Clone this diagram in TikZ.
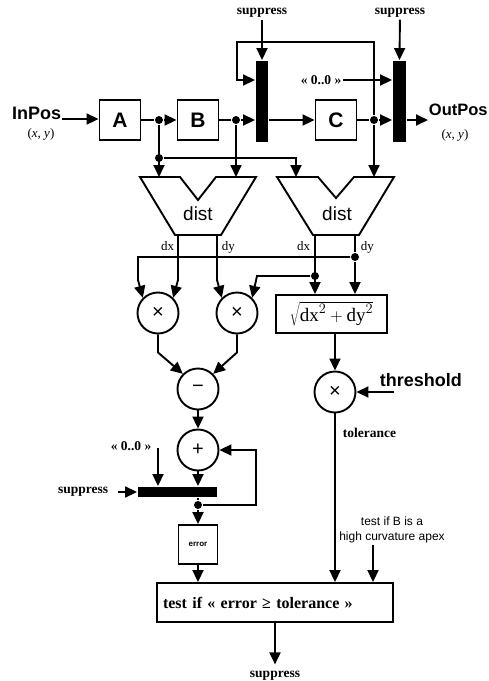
\documentclass[tikz,border=0pt]{standalone}
\usepackage{fontspec}
\setmainfont{Liberation Serif}
\setsansfont{Liberation Sans}
\usetikzlibrary{positioning,arrows.meta}

\begin{document}
\begin{tikzpicture}[
  x=1pt, y=-1pt,
  line width=1.9pt,
  >={Triangle[length=12pt,width=11pt]},
  blk/.style={draw, minimum width=41pt, minimum height=40pt, inner sep=0pt,
              font=\sffamily\bfseries\fontsize{21}{21}\selectfont},
  bar/.style={fill=black, inner sep=0pt},
  op/.style={draw, circle, minimum size=41pt, inner sep=0pt,
             font=\sffamily\fontsize{20}{20}\selectfont},
  lbl/.style={font=\bfseries\fontsize{13.5}{13.5}\selectfont, inner sep=1pt},
  big/.style={font=\sffamily\bfseries\fontsize{18}{18}\selectfont, inner sep=0pt},
  small/.style={font=\fontsize{13}{13}\selectfont, inner sep=0pt},
  dot/.style={circle, fill=black, inner sep=0pt, minimum size=8pt},
  dist/.style={font=\sffamily\fontsize{19}{19}\selectfont}
]
\useasboundingbox (0,0) rectangle (488,681);

% input / output
\node[big, anchor=base east] (in) at (62,119) {InPos};
\node[small] (inxy) at (41,134) {(\textit{x}, \textit{y})};
\node[big, font=\sffamily\bfseries\fontsize{16.5}{16.5}\selectfont,
      anchor=base west] (out) at (428,115) {OutPos};
\node[small] (outxy) at (455,135) {(\textit{x}, \textit{y})};

% delay chain
\node[blk] (A) at (120,120) {A};
\node[blk] (B) at (198,120) {B};
\node[blk] (C) at (336,120) {C};
\node[dot] (j1) at (159,120) {};
\node[dot] (j2) at (159,158) {};
\node[dot] (j3) at (236,120) {};
\node[dot] (j4) at (374,120) {};

% suppress switches
\node[bar, minimum width=12pt, minimum height=81pt] (s1) at (262,101.5) {};
\node[bar, minimum width=13pt, minimum height=81pt] (s2) at (399.5,101.5) {};
\node[lbl] (sup1) at (262,13) {suppress};
\node[lbl] (sup2) at (400,13) {suppress};
\node[lbl] (zero1) at (321,80) {« 0..0 »};
\coordinate (fbA) at (237,42);
\coordinate (fbB) at (237,80);

% dist blocks
\coordinate (dl) at (198,177);
\coordinate (dr) at (336,177);
\draw (dl) ++(-58,0) -- ++(40,0) -- ++(18,23) -- ++(18,-23)
  -- ++(40,0) -- ++(-35,58) -- ++(-46,0) -- cycle;
\draw (dr) ++(-59,0) -- ++(41,0) -- ++(18,21) -- ++(18,-21)
  -- ++(40,0) -- ++(-35,58) -- ++(-46,0) -- cycle;
\node[dist] (distL) at (198,214) {dist};
\node[dist] (distR) at (337,214) {dist};
\coordinate (r1) at (296,177);

\coordinate (dxL) at (178,235);
\coordinate (dyL) at (217,235);
\coordinate (dxR) at (315,235);
\coordinate (dyR) at (355,235);
\node[small, anchor=east] at (175,246) {dx};
\node[small, anchor=west] at (221,247) {dy};
\node[small, anchor=east] at (311,246) {dx};
\node[small, anchor=west] at (360,247) {dy};
\node[dot] (j5) at (355,257) {};
\node[dot] (j6) at (315,276) {};

% operators
\node[op] (m1) at (158,313) {×};
\node[op] (m2) at (237,313) {×};
\node[op] (sub) at (198,389) {−};
\node[op] (add) at (198,450) {+};
\node[op] (m3) at (335,392) {×};
\node[draw, minimum width=111pt, minimum height=38pt, inner sep=0pt,
      font=\fontsize{19}{19}\selectfont] (sq) at (331.5,314)
      {$\sqrt{\mathrm{dx}^2+\mathrm{dy}^2}$};
\node[big, anchor=base west] (thr) at (379,386) {threshold};
\coordinate (thrA) at (394,392);
\node[lbl, anchor=west] (tol) at (341,433) {tolerance};

% error accumulator
\node[bar, minimum width=79pt, minimum height=10pt] (s3) at (177.5,492) {};
\node[lbl] (zero2) at (131,446) {« 0..0 »};
\coordinate (z2) at (158,448);
\node[lbl, anchor=east] (sup3) at (110,492) {suppress};
\node[dot] (j7) at (198,505) {};
\node[draw, minimum size=39pt, inner sep=0pt,
      font=\sffamily\bfseries\fontsize{8}{8}\selectfont] (err) at (198,544.5) {error};

% test
\node[align=center, font=\sffamily\fontsize{12}{15}\selectfont] (curv) at (392,530)
  {test if B is a\\high curvature apex};
\coordinate (cv) at (373,545);
\node[draw, text width=224pt, inner xsep=6pt, minimum height=39pt, align=left,
      font=\bfseries\fontsize{16}{16}\selectfont] (test) at (275,602.5)
  {test if « error ≥ tolerance »};
\node[lbl] (sup4) at (275,676) {suppress};

% edges
\draw[->] (in.base east) -- (in.base east -| A.west);
\draw (A) -- (j1);
\draw[->] (j1) -- (B);
\draw (B) -- (j3);
\draw[->] (j3) -- (j3 -| s1.west);
\draw[->] (s1.east |- C) -- (C);
\draw (C) -- (j4);
\draw[->] (j4) -- (j4 -| s2.west);
\draw[->] (s2.east |- j4) -- (out.west |- j4);
\draw[->] (sup1) -- (s1.north);
\draw[->] (sup2) -- (s2.north);
\draw[->] (zero1) -- (zero1 -| s2.west);
\draw[->] (j4) -- (j4 |- fbA) -- (fbA) -- (fbB) -- (fbB -| s1.west);

\draw[->] (j1) -- (j1 |- dl);
\draw[->] (j2) -- (j2 -| r1) -- (r1);
\draw[->] (j3) -- (j3 |- dl);
\draw[->] (j4) -- (j4 |- dr);

\draw[->] (j5) -- ++(-217,0) -- ++(0,23) -- (m1.135);
\draw (dyR) -- (j5);
\draw[->] (dxL) -- ++(0,45) -- (m1.45);
\draw[->] (dyL) -- ++(0,45) -- (m2.135);
\draw[->] (j6) -- ++(-58,0) -- (m2.45);
\draw[->] (dxR) -- (dxR |- sq.north);
\draw[->] (j5) -- (j5 |- sq.north);

\draw[->] (sq.south -| m3) -- (m3);
\draw[->] (thrA) -- (m3);
\draw[->] (m3) -- (m3 |- test.north);

\draw[->] (m1.south) -- ++(0,18) -- (sub.135);
\draw[->] (m2.south) -- ++(0,18) -- (sub.45);
\draw[->] (sub) -- (add);
\draw[->] (add) -- (add |- s3.north);
\draw[->] (z2) -- (z2 |- s3.north);
\draw[->] ([xshift=8pt]sup3.east) -- (s3.west);
\draw (add |- s3.south) -- (j7);
\draw[->] (j7) -- (err);
\draw[->] (j7) -- ++(58,0) |- (add);
\draw[->] (err) -- (err |- test.north);
\draw[->] (cv) -- (cv |- test.north);
\draw[->, shorten >=5pt] (test) -- (sup4);
\end{tikzpicture}
\end{document}
